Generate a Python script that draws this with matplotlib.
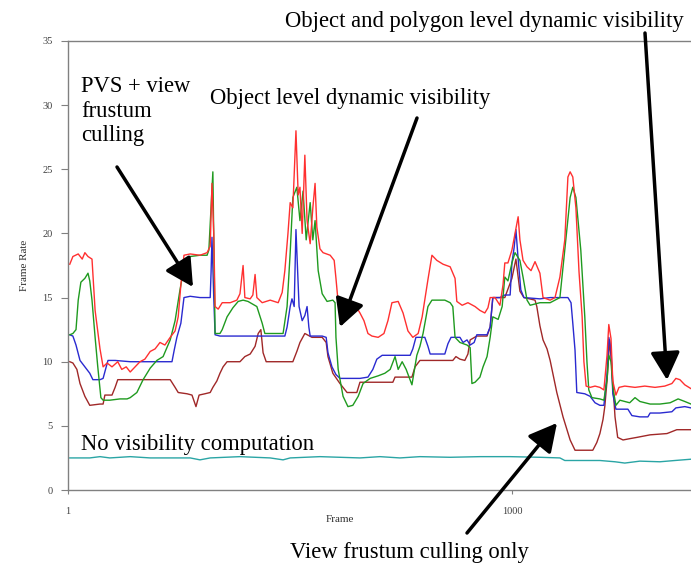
import matplotlib
matplotlib.use("Agg")
import matplotlib.pyplot as plt

# frame numbers / frame rates
red_frames = [5, 12, 24, 33, 39, 46, 55, 62, 73, 80, 89, 100, 113, 122, 132, 141, 152, 163, 174, 186,
              197, 208, 219, 231, 242, 249, 255, 262, 276, 298, 314, 321, 325, 329, 332, 339, 348, 366,
              381, 388, 395, 399, 411, 417, 422, 426, 438, 456, 474, 483, 489, 496, 501, 507, 514, 519,
              523, 528, 534, 539, 546, 552, 557, 561, 568, 575, 591, 600, 604, 609, 624, 640, 651, 658,
              667, 676, 685, 699, 712, 721, 730, 744, 755, 766, 777, 789, 798, 811, 820, 831, 845, 861,
              872, 876, 888, 901, 917, 928, 939, 946, 951, 962, 973, 980, 984, 991, 1000, 1007, 1014,
              1018, 1025, 1034, 1043, 1052, 1063, 1070, 1086, 1097, 1108, 1119, 1126, 1131, 1137, 1144,
              1151, 1158, 1162, 1167, 1176, 1187, 1198, 1207, 1214, 1218, 1223, 1227, 1234, 1241, 1254,
              1277, 1299, 1322, 1344, 1360, 1369, 1378, 1389, 1403]
red_fps = [17.6, 18.2, 18.4, 18.0, 18.5, 18.2, 18.0, 14.0, 11.0, 9.6, 9.9, 9.6, 10.0, 9.4, 9.6, 9.2,
           9.6, 10.0, 10.2, 10.8, 11.0, 11.5, 11.3, 11.9, 12.4, 13.5, 16.0, 18.3, 18.4, 18.3, 18.5, 19.0,
           23.9, 20.0, 14.3, 14.1, 14.6, 14.6, 14.8, 15.3, 17.5, 15.0, 14.9, 15.2, 16.8, 15.0, 14.6, 14.8,
           14.6, 15.4, 17.1, 20.0, 22.4, 22.0, 28.0, 23.0, 23.6, 20.0, 26.1, 21.0, 19.2, 22.0, 23.9, 20.5,
           18.8, 18.5, 18.3, 17.9, 16.5, 14.6, 14.4, 14.2, 14.2, 13.8, 13.2, 12.2, 12.0, 11.9, 12.2, 13.2,
           14.6, 14.7, 13.8, 12.4, 11.9, 12.2, 13.5, 16.4, 18.3, 17.9, 17.6, 17.4, 16.5, 14.7, 14.4, 14.6,
           14.3, 14.0, 13.8, 14.2, 15.0, 15.0, 14.4, 16.0, 17.7, 17.7, 18.7, 20.0, 21.3, 19.5, 17.9, 17.4,
           17.1, 17.8, 16.9, 15.0, 14.8, 15.0, 16.6, 19.5, 24.4, 24.8, 24.4, 22.0, 17.0, 13.5, 10.0, 8.1,
           8.0, 8.1, 8.0, 7.8, 10.5, 12.9, 11.8, 8.5, 7.4, 8.0, 8.1, 8.0, 8.1, 8.0, 8.1, 8.3, 8.7, 8.6,
           8.2, 7.9]

green_frames = [5, 12, 19, 24, 30, 39, 46, 50, 55, 62, 68, 75, 80, 95, 118, 134, 141, 156, 170, 186,
                201, 215, 231, 242, 253, 264, 276, 298, 314, 318, 323, 327, 329, 332, 343, 348, 359, 372,
                384, 395, 406, 426, 438, 444, 485, 494, 501, 507, 516, 523, 530, 537, 546, 552, 557, 564,
                573, 584, 597, 602, 604, 609, 620, 631, 642, 654, 665, 681, 699, 714, 726, 737, 744, 753,
                762, 775, 786, 793, 800, 811, 820, 849, 861, 867, 872, 883, 899, 906, 910, 917, 928, 935,
                944, 951, 957, 969, 978, 984, 991, 1000, 1007, 1018, 1025, 1034, 1041, 1063, 1086, 1108,
                1119, 1131, 1137, 1144, 1155, 1164, 1169, 1173, 1180, 1198, 1207, 1214, 1218, 1223, 1227,
                1234, 1243, 1265, 1277, 1288, 1311, 1333, 1356, 1374, 1389, 1403]
green_fps = [12.1, 12.2, 12.5, 14.8, 16.2, 16.5, 16.9, 16.3, 14.8, 11.9, 9.6, 7.2, 7.0, 7.0, 7.1, 7.1,
             7.2, 7.6, 8.6, 9.5, 10.1, 10.4, 11.7, 13.2, 15.6, 17.7, 18.2, 18.3, 18.3, 18.7, 22.0, 24.8,
             20.0, 12.2, 12.2, 12.5, 13.5, 14.2, 14.7, 14.8, 14.7, 14.3, 13.0, 12.2, 12.2, 14.3, 18.5,
             22.8, 23.6, 21.0, 23.3, 19.5, 22.4, 19.5, 21.0, 17.1, 15.3, 14.7, 14.8, 14.6, 11.9, 9.4, 7.3,
             6.5, 6.6, 7.3, 8.3, 8.7, 8.9, 9.1, 9.4, 10.4, 9.4, 10.0, 9.4, 8.2, 10.5, 11.2, 12.2, 14.3,
             14.8, 14.8, 14.6, 14.3, 11.9, 11.5, 11.3, 11.1, 8.3, 8.4, 8.8, 9.6, 10.4, 11.9, 13.5, 13.3,
             14.3, 16.6, 16.3, 17.7, 18.5, 17.9, 16.6, 14.8, 14.4, 14.6, 14.6, 15.0, 18.7, 22.8, 23.6,
             22.8, 18.7, 13.5, 9.9, 7.8, 7.2, 7.1, 7.0, 8.6, 10.5, 10.0, 8.0, 6.6, 7.0, 6.8, 7.2, 6.9, 6.7,
             6.7, 6.8, 7.1, 6.9, 6.7]

blue_frames = [5, 12, 19, 28, 39, 50, 57, 73, 80, 87, 91, 107, 141, 174, 208, 235, 240, 246, 255, 262,
               276, 298, 321, 323, 325, 329, 332, 343, 388, 433, 478, 489, 494, 501, 505, 510, 514, 519,
               521, 528, 534, 539, 543, 546, 573, 582, 586, 595, 604, 613, 636, 658, 676, 687, 696, 708,
               737, 771, 777, 784, 804, 811, 816, 849, 856, 863, 883, 890, 899, 906, 915, 921, 944, 951,
               957, 973, 984, 996, 1000, 1005, 1009, 1014, 1020, 1027, 1063, 1086, 1108, 1126, 1133, 1137,
               1142, 1146, 1164, 1176, 1187, 1198, 1207, 1214, 1218, 1223, 1227, 1234, 1243, 1261, 1270,
               1288, 1306, 1311, 1333, 1360, 1369, 1389, 1403]
blue_fps = [12.1, 12.0, 11.3, 10.1, 9.6, 9.1, 8.6, 8.6, 8.7, 9.6, 10.1, 10.1, 10.0, 10.0, 10.0, 10.0,
            10.9, 11.9, 13.0, 15.0, 15.1, 15.0, 15.0, 17.0, 19.7, 15.0, 12.1, 12.0, 12.0, 12.0, 12.0,
            12.0, 12.7, 14.3, 14.9, 14.3, 20.3, 16.0, 14.3, 13.2, 13.6, 14.3, 12.7, 12.0, 12.0, 11.9,
            10.7, 9.6, 9.0, 8.7, 8.7, 8.7, 8.8, 9.4, 10.2, 10.5, 10.5, 10.5, 11.0, 11.9, 11.9, 11.2, 10.6,
            10.6, 11.4, 11.9, 11.9, 11.5, 11.7, 11.3, 11.5, 12.1, 12.1, 12.7, 15.0, 15.0, 15.2, 15.2,
            17.7, 18.9, 20.3, 18.0, 15.6, 15.0, 14.9, 15.0, 15.0, 15.0, 14.6, 13.0, 10.9, 7.6, 7.5, 7.3,
            6.8, 6.6, 6.6, 9.0, 11.9, 11.0, 7.5, 6.3, 6.3, 6.3, 5.8, 5.7, 5.7, 6.0, 6.0, 6.1, 6.4, 6.5,
            6.4]

brown_frames = [5, 12, 21, 28, 39, 50, 73, 80, 84, 100, 107, 113, 141, 186, 231, 242, 249, 269, 280,
                289, 296, 309, 321, 327, 336, 343, 350, 359, 388, 399, 411, 422, 429, 435, 440, 447, 478,
                507, 516, 523, 534, 550, 573, 582, 586, 597, 613, 629, 651, 658, 692, 732, 737, 759, 775,
                782, 793, 838, 867, 874, 883, 894, 901, 906, 921, 944, 951, 957, 984, 1000, 1009, 1018,
                1027, 1052, 1056, 1063, 1070, 1079, 1086, 1101, 1115, 1131, 1142, 1164, 1182, 1191, 1198,
                1205, 1209, 1214, 1216, 1220, 1225, 1232, 1238, 1250, 1265, 1281, 1311, 1349, 1371, 1403]
brown_fps = [10.0, 9.9, 9.4, 8.3, 7.3, 6.6, 6.7, 6.7, 7.4, 7.4, 8.0, 8.6, 8.6, 8.6, 8.6, 8.0, 7.6, 7.5,
             7.4, 6.5, 7.4, 7.5, 7.6, 8.0, 8.5, 9.1, 9.6, 10.0, 10.0, 10.4, 10.6, 11.2, 12.2, 12.5, 10.7,
             10.0, 10.0, 10.0, 10.8, 11.5, 12.2, 11.9, 11.9, 11.5, 10.4, 9.1, 8.3, 7.6, 7.6, 8.4, 8.4, 8.4,
             8.8, 8.8, 8.8, 9.6, 10.1, 10.1, 10.1, 10.4, 10.2, 10.1, 10.6, 11.7, 12.0, 12.0, 12.7, 15.0,
             15.0, 16.5, 18.0, 15.5, 15.0, 14.8, 14.3, 12.8, 11.7, 11.0, 10.1, 7.6, 5.7, 3.9, 3.1, 3.1,
             3.1, 3.7, 4.4, 5.5, 6.5, 8.5, 9.6, 11.7, 9.5, 5.7, 4.1, 3.9, 4.0, 4.1, 4.3, 4.4, 4.7, 4.7]

teal_frames = [5, 50, 73, 95, 141, 186, 231, 276, 298, 321, 388, 456, 485, 501, 568, 613, 658, 703, 748,
               793, 861, 928, 996, 1063, 1108, 1119, 1176, 1198, 1232, 1254, 1288, 1333, 1367, 1403]
teal_fps = [2.5, 2.5, 2.6, 2.5, 2.6, 2.5, 2.5, 2.5, 2.35, 2.5, 2.6, 2.5, 2.35, 2.5, 2.6, 2.55, 2.5, 2.6,
            2.5, 2.6, 2.55, 2.6, 2.6, 2.55, 2.5, 2.3, 2.3, 2.3, 2.2, 2.1, 2.25, 2.2, 2.3, 2.4]

W, H = 691, 568
SERIF = "Liberation Serif"


def px(x, y):
    # image pixel -> figure fraction
    return (x / W, 1 - y / H)


fig = plt.figure(figsize=(W / 100, H / 100), dpi=100)
fig.patch.set_facecolor("white")
ax = fig.add_axes([68 / W, 1 - 490 / H, 1 - 68 / W, (490 - 41) / H])

ax.plot(teal_frames, teal_fps, color="#2aa5a5", lw=1.0)
ax.plot(brown_frames, brown_fps, color="#a02828", lw=1.0)
ax.plot(blue_frames, blue_fps, color="#2a2ad0", lw=1.0)
ax.plot(green_frames, green_fps, color="#1f9a1f", lw=1.0)
ax.plot(red_frames, red_fps, color="#ff3030", lw=1.0)

ax.set_xlim(1, 1403)
ax.set_ylim(0, 35)
ax.set_yticks(range(0, 36, 5))
ax.set_xticks([1, 1000])
ax.set_xticklabels(["1", "1000"])
for side in ("left", "bottom", "top"):
    ax.spines[side].set_color("#808080")
    ax.spines[side].set_linewidth(1.0)
ax.spines["right"].set_visible(False)
ax.tick_params(axis="y", direction="out", length=5, pad=6, color="#808080",
               labelsize=7.5, labelcolor="#404040")
ax.tick_params(axis="x", direction="out", length=3, pad=9, color="#808080",
               labelsize=7.5, labelcolor="#404040")
for lab in ax.get_xticklabels() + ax.get_yticklabels():
    lab.set_family(SERIF)
ax.set_xlabel("Frame", family=SERIF, fontsize=8, color="#303030")
ax.xaxis.set_label_coords((340 - 68) / (W - 68), -0.055)
ax.set_ylabel("Frame Rate", family=SERIF, fontsize=8, color="#303030")
ax.yaxis.set_label_coords(-0.062, 0.5)

# annotations
tkw = dict(family=SERIF, fontsize=16.3, color="black", va="baseline", ha="left")
fig.text(*px(285, 27), "Object and polygon level dynamic visibility", **tkw)
fig.text(*px(210, 104), "Object level dynamic visibility", **tkw)
fig.text(*px(81, 92), "PVS + view", **tkw)
fig.text(*px(81, 117), "frustum", **tkw)
fig.text(*px(81, 141), "culling", **tkw)
fig.text(*px(81, 450), "No visibility computation", **tkw)
fig.text(*px(290, 558), "View frustum culling only", **tkw)

akw = dict(arrowstyle="-|>,head_length=0.85,head_width=0.45", color="black", lw=2.5,
           mutation_scale=20, shrinkA=0, shrinkB=0)
for tail, tip in [((117, 167), (193, 287)), ((417, 118), (340, 327)),
                  ((645, 33), (667, 380)), ((467, 533), (557, 423))]:
    ax.annotate("", xy=px(*tip), xytext=px(*tail), xycoords="figure fraction",
                textcoords="figure fraction", arrowprops=akw, annotation_clip=False)

fig.savefig("out.png", dpi=100)
